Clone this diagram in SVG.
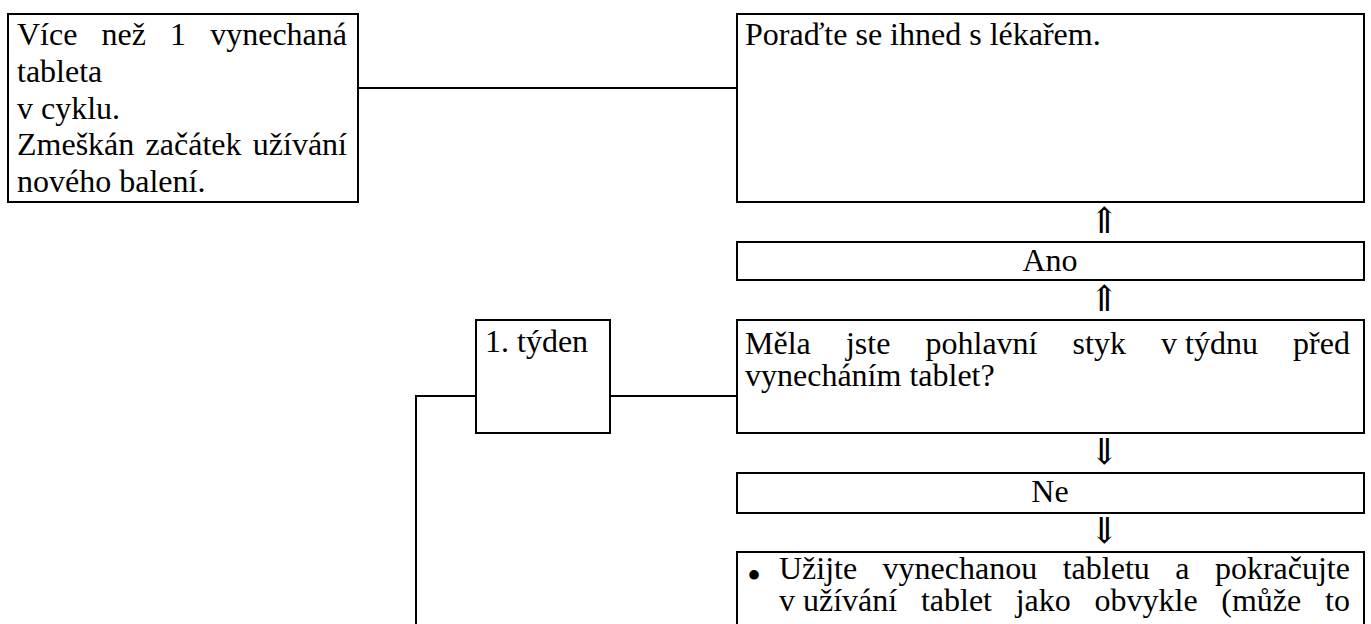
<svg xmlns="http://www.w3.org/2000/svg" width="1371" height="624" viewBox="0 0 1371 624">
<style>
.box{fill:#fff;stroke:#000;stroke-width:2}
.conn{fill:none;stroke:#000;stroke-width:2}
.t{font-family:"Liberation Serif","Times New Roman",serif;font-size:32px;fill:#000}
.c{text-anchor:middle}
.arr{font-family:"DejaVu Serif",serif;font-size:36px;fill:#000;text-anchor:middle}
</style>
<rect x="0" y="0" width="1371" height="624" fill="#fff"/>
<g id="connectors">
<polyline class="conn" points="358,88 737,88"/>
<polyline class="conn" points="610,396 737,396"/>
<polyline class="conn" points="476,396 416,396 416,630"/>
</g>
<g id="n-missed">
<rect class="box" x="8" y="14" width="350" height="188"/>
<text class="t"><tspan x="17" y="45">Více</tspan><tspan x="101.5" y="45">než</tspan><tspan x="170" y="45">1</tspan><tspan x="210.2" y="45">vynechaná</tspan></text>
<text class="t" x="17" y="82">tableta</text>
<text class="t" x="17" y="119">v cyklu.</text>
<text class="t"><tspan x="17" y="155">Zmeškán</tspan><tspan x="145.6" y="155">začátek</tspan><tspan x="252.8" y="155">užívání</tspan></text>
<text class="t" x="17" y="192">nového balení.</text>
</g>
<g id="n-doctor">
<rect class="box" x="737" y="14" width="627" height="188"/>
<text class="t" x="745" y="45">Poraďte se ihned s lékařem.</text>
</g>
<g id="a-up1"><text class="arr" x="1104" y="233">⇑</text></g>
<g id="n-ano">
<rect class="box" x="737" y="242" width="627" height="38"/>
<text class="t c" x="1050" y="271">Ano</text>
</g>
<g id="a-up2"><text class="arr" x="1104" y="311">⇑</text></g>
<g id="n-week1">
<rect class="box" x="476" y="320" width="134" height="113"/>
<text class="t" x="485" y="352">1. týden</text>
</g>
<g id="n-question">
<rect class="box" x="737" y="320" width="627" height="113"/>
<text class="t"><tspan x="745" y="354">Měla</tspan><tspan x="845.9" y="354">jste</tspan><tspan x="925.5" y="354">pohlavní</tspan><tspan x="1072.6" y="354">styk</tspan><tspan x="1161.1" y="354">v týdnu</tspan><tspan x="1293.1" y="354">před</tspan></text>
<text class="t" x="745" y="386">vynecháním tablet?</text>
</g>
<g id="a-down1"><text class="arr" x="1104" y="464">⇓</text></g>
<g id="n-ne">
<rect class="box" x="737" y="473" width="627" height="40"/>
<text class="t c" x="1050" y="502">Ne</text>
</g>
<g id="a-down2"><text class="arr" x="1104" y="543">⇓</text></g>
<g id="n-action">
<rect class="box" x="737" y="552" width="627" height="100"/>
<text class="t" style="font-size:40px" x="747" y="589">•</text>
<text class="t"><tspan x="779" y="579">Užijte</tspan><tspan x="882.6" y="579">vynechanou</tspan><tspan x="1062.7" y="579">tabletu</tspan><tspan x="1175.2" y="579">a</tspan><tspan x="1214.9" y="579">pokračujte</tspan></text>
<text class="t"><tspan x="779" y="611">v užívání</tspan><tspan x="920.9" y="611">tablet</tspan><tspan x="1015.7" y="611">jako</tspan><tspan x="1094.5" y="611">obvykle</tspan><tspan x="1221.3" y="611">(může</tspan><tspan x="1325" y="611">to</tspan></text>
</g>
</svg>
